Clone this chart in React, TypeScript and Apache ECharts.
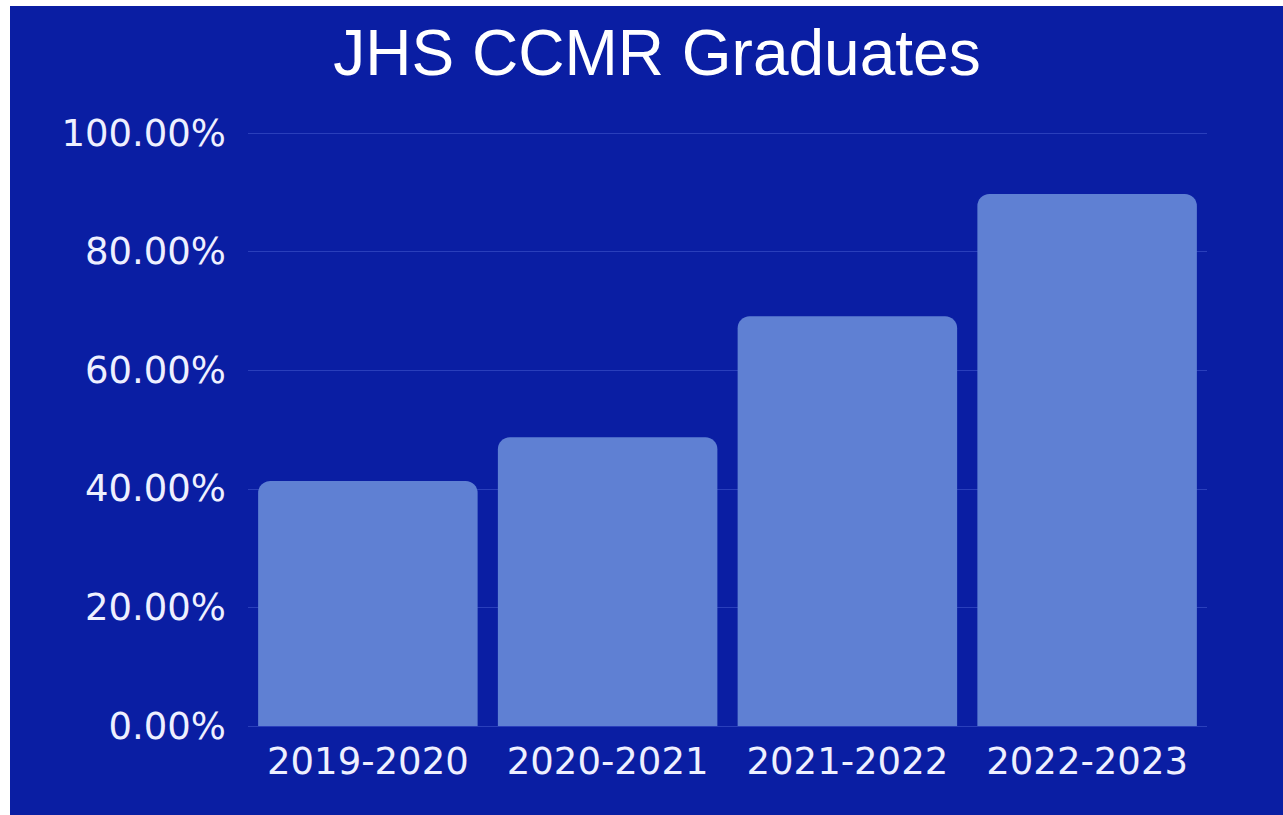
import React, { useEffect, useRef } from "react";
import * as echarts from "echarts";

const categories = ["2019-2020", "2020-2021", "2021-2022", "2022-2023"];
const graduateRates = [41.3, 48.7, 69.1, 89.7];
const yTicks = [0, 20, 40, 60, 80, 100];

export default function App() {
  const ref = useRef<HTMLDivElement>(null);
  useEffect(() => {
    if (!ref.current) return;
    const chart = echarts.init(ref.current, undefined, { renderer: "svg" });
    chart.setOption({
      animation: false,
      backgroundColor: "#0a1ea3",
      title: {
        text: "JHS CCMR Graduates",
        left: 642,
        textAlign: "center",
        top: 10,
        textStyle: {
          color: "#ffffff",
          fontFamily: "Liberation Sans",
          fontSize: 64,
          fontWeight: "normal",
        },
      },
      grid: { left: 238, right: 76, top: 127, bottom: 89 },
      xAxis: {
        type: "category",
        data: categories,
        axisLine: { show: false },
        axisTick: { show: false },
        axisLabel: {
          color: "#eef0ff",
          fontFamily: "DejaVu Sans",
          fontSize: 37,
          margin: 17,
          interval: 0,
        },
      },
      yAxis: {
        type: "value",
        min: yTicks[0],
        max: yTicks[yTicks.length - 1],
        interval: 20,
        axisLine: { show: false },
        axisTick: { show: false },
        splitLine: { lineStyle: { color: "#2a3fbb", width: 1 } },
        axisLabel: {
          color: "#eef0ff",
          fontFamily: "DejaVu Sans",
          fontSize: 37,
          margin: 22,
          formatter: (v: number) => v.toFixed(2) + "%",
        },
      },
      series: [
        {
          type: "bar",
          data: graduateRates,
          barWidth: 219.5,
          itemStyle: { color: "#5f80d3", borderRadius: [12, 12, 0, 0] },
        },
      ],
    });
    return () => chart.dispose();
  }, []);
  return (
    <div
      ref={ref}
      style={{ position: "fixed", left: 10, top: 6, width: 1273, height: 809 }}
    />
  );
}
